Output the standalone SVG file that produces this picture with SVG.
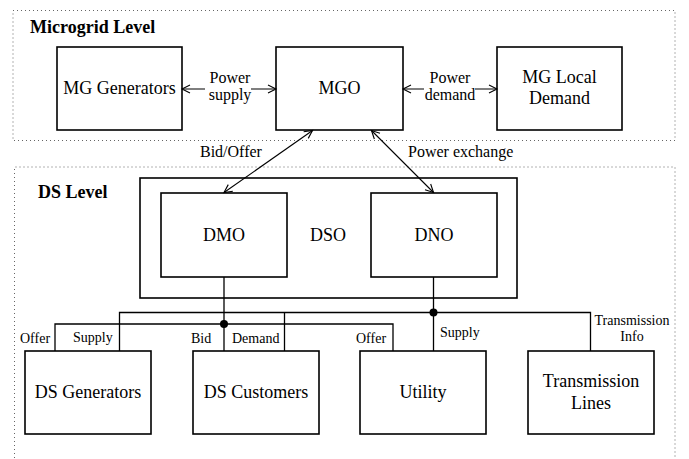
<svg xmlns="http://www.w3.org/2000/svg" width="689" height="459" viewBox="0 0 689 459">
<style>
.box{fill:#fff;stroke:#000;stroke-width:1.6}
.zone{fill:none;stroke:#666;stroke-width:1;stroke-dasharray:1 3}
text{font-family:'Liberation Serif','Times New Roman','DejaVu Serif',serif;fill:#000}
.t{font-size:18px;text-anchor:middle}
.h{font-size:18px;font-weight:bold}
.l{font-size:16px}
.s{font-size:14px}
.c{fill:none;stroke:#000;stroke-width:1.3}
.a{fill:none;stroke:#000;stroke-width:1.1;marker-start:url(#arr);marker-end:url(#arr)}
</style>
<defs>
<marker id="arr" markerUnits="userSpaceOnUse" markerWidth="12" markerHeight="12" refX="9" refY="5" orient="auto-start-reverse">
<path d="M1,1 L9,5 L1,9" fill="none" stroke="#000" stroke-width="1.1"/>
</marker>
</defs>
<g id="zones">
<rect class="zone" x="13" y="10.5" width="662" height="130"/>
<path class="zone" d="M14.5,470 V167 H675 V470"/>
<text class="h" x="30" y="33">Microgrid Level</text>
<text class="h" x="38" y="198">DS Level</text>
</g>
<g id="dso">
<rect class="box" x="140" y="178" width="377" height="120"/>
<text class="t" x="328" y="241">DSO</text>
</g>
<g id="mg-generators">
<rect class="box" x="57" y="47" width="125" height="83"/>
<text class="t" x="119.5" y="94">MG Generators</text>
</g>
<g id="mgo">
<rect class="box" x="276" y="47" width="127" height="83"/>
<text class="t" x="339.5" y="94">MGO</text>
</g>
<g id="mg-local-demand">
<rect class="box" x="497" y="47" width="125" height="83"/>
<text class="t" x="559.5" y="83">MG Local</text>
<text class="t" x="559.5" y="104">Demand</text>
</g>
<g id="dmo">
<rect class="box" x="161" y="193" width="126" height="84"/>
<text class="t" x="224" y="241">DMO</text>
</g>
<g id="dno">
<rect class="box" x="371" y="193" width="126" height="84"/>
<text class="t" x="434" y="241">DNO</text>
</g>
<g id="ds-generators">
<rect class="box" x="25" y="351" width="126" height="83"/>
<text class="t" x="88" y="398">DS Generators</text>
</g>
<g id="ds-customers">
<rect class="box" x="193" y="351" width="126" height="83"/>
<text class="t" x="256" y="398">DS Customers</text>
</g>
<g id="utility">
<rect class="box" x="360" y="351" width="126" height="83"/>
<text class="t" x="423" y="398">Utility</text>
</g>
<g id="transmission-lines">
<rect class="box" x="528" y="351" width="126" height="83"/>
<text class="t" x="591" y="387">Transmission</text>
<text class="t" x="591" y="409">Lines</text>
</g>
<g id="connectors">
<path class="a" d="M182,89 H205 M251,89 H276"/>
<path class="a" d="M403,89 H424 M475,89 H497"/>
<path class="a" d="M312.5,130.5 L224,192.5"/>
<path class="a" d="M371.5,130.5 L433.5,192.5"/>
<path class="c" d="M224,277 V351"/>
<path class="c" d="M433.5,277 V351"/>
<path class="c" d="M55,351 V324 H393 V351"/>
<path class="c" d="M119.5,351 V312.5 H590.5 V351"/>
<path class="c" d="M284.5,312.5 V351"/>
<circle cx="224" cy="324" r="4"/>
<circle cx="433.5" cy="312.5" r="4"/>
<text class="l" x="230" y="83" text-anchor="middle">Power</text>
<text class="l" x="230" y="100" text-anchor="middle">supply</text>
<text class="l" x="450" y="83" text-anchor="middle">Power</text>
<text class="l" x="450" y="100" text-anchor="middle">demand</text>
<text class="l" x="200" y="157">Bid/Offer</text>
<text class="l" x="408" y="157">Power exchange</text>
<text class="s" x="20" y="343">Offer</text>
<text class="s" x="73" y="342">Supply</text>
<text class="s" x="191" y="343">Bid</text>
<text class="s" x="232" y="343">Demand</text>
<text class="s" x="356" y="343">Offer</text>
<text class="s" x="440" y="337">Supply</text>
<text class="s" x="632" y="325" text-anchor="middle">Transmission</text>
<text class="s" x="632" y="341" text-anchor="middle">Info</text>
</g>
</svg>
